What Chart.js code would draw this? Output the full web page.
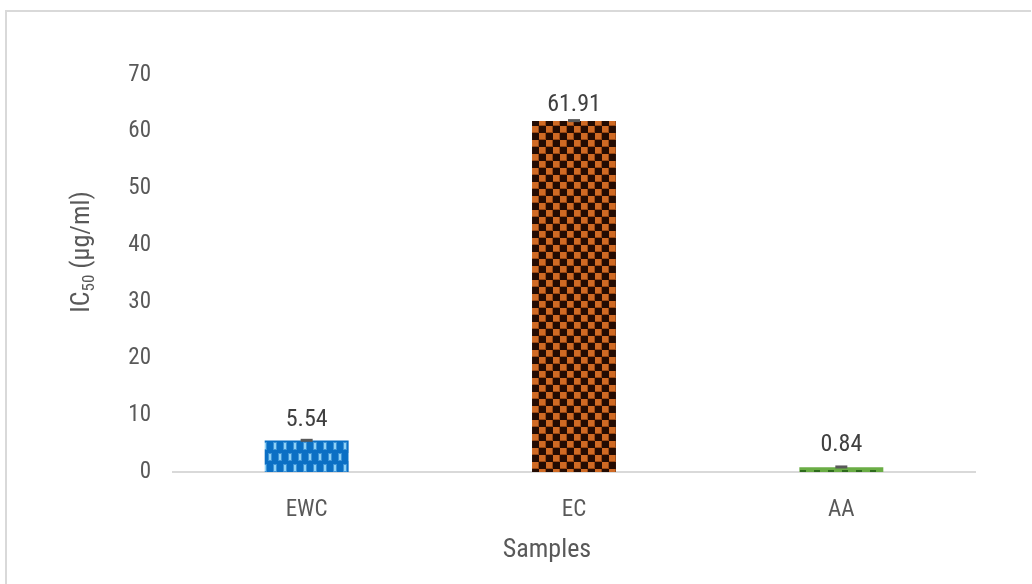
<!DOCTYPE html>
<html>
<head>
<meta charset="utf-8">
<script src="https://cdn.jsdelivr.net/npm/chart.js@4.4.1/dist/chart.umd.min.js"></script>
<style>
  html, body { margin: 0; padding: 0; background: #fff; }
  #wrap { width: 1032px; height: 584px; position: relative; }
</style>
</head>
<body>
<div id="wrap"><canvas id="c" width="1032" height="584"></canvas></div>
<script>
// ---- data ----
const categories = ['EWC', 'EC', 'AA'];
const ic50Values = [5.54, 61.91, 0.84];
const errorValues = [0.05, 0.05, 0.05];
const yTicks = [0, 10, 20, 30, 40, 50, 60, 70];
const xTitle = 'Samples';
const yTitleMain = 'IC';
const yTitleSub = '50';
const yTitleRest = ' (µg/ml)';

const FONT = '"Liberation Sans Narrow", "Roboto Condensed", "DejaVu Sans Condensed", Roboto, sans-serif';
const TEXT = '#595959';

// ---- patterns ----
function bluePattern() {
  const c = document.createElement('canvas'); c.width = 10; c.height = 22;
  const g = c.getContext('2d');
  g.fillStyle = '#0B6FC4'; g.fillRect(0, 0, 10, 22);
  g.fillStyle = '#3E94D8';
  g.fillRect(3, 2, 4, 8);
  g.fillRect(-2, 13, 4, 8); g.fillRect(8, 13, 4, 8);
  g.fillStyle = '#8FD2F6';
  g.fillRect(4, 3, 2, 6);
  g.fillRect(-1, 14, 2, 6); g.fillRect(9, 14, 2, 6);
  return g.createPattern(c, 'repeat');
}
function checkPattern() {
  const c = document.createElement('canvas'); c.width = 14; c.height = 14;
  const g = c.getContext('2d');
  g.fillStyle = '#240B02'; g.fillRect(0, 0, 14, 14);
  g.fillStyle = '#D06A24'; g.fillRect(0, 0, 7, 7); g.fillRect(7, 7, 7, 7);
  g.fillStyle = '#9A4814';
  g.fillRect(6, 0, 1, 7); g.fillRect(0, 6, 7, 1); g.fillRect(13, 7, 1, 7); g.fillRect(7, 13, 7, 1);
  return g.createPattern(c, 'repeat');
}
function greenPattern() {
  const c = document.createElement('canvas'); c.width = 14; c.height = 10;
  const g = c.getContext('2d');
  g.fillStyle = '#6AAD45'; g.fillRect(0, 0, 14, 10);
  g.fillStyle = '#2E6B1C';
  g.fillRect(2, 0, 6, 2);
  g.fillRect(9, 5, 4, 2);
  return g.createPattern(c, 'repeat');
}

// ---- plugins ----
const framePlugin = {
  id: 'frame',
  beforeDraw(chart) {
    const ctx = chart.ctx;
    ctx.save();
    ctx.fillStyle = '#fff';
    ctx.fillRect(0, 0, chart.width, chart.height);
    ctx.strokeStyle = '#d9d9d9';
    ctx.lineWidth = 2;
    ctx.beginPath();
    ctx.moveTo(6, chart.height);
    ctx.lineTo(6, 11);
    ctx.lineTo(chart.width - 1, 11);
    ctx.stroke();
    ctx.restore();
  }
};

const extrasPlugin = {
  id: 'extras',
  afterDatasetsDraw(chart) {
    const ctx = chart.ctx;
    const y = chart.scales.y;
    const meta = chart.getDatasetMeta(0);
    const labelGap = [15, 10, 16];
    ctx.save();
    meta.data.forEach((bar, i) => {
      // error bar
      const v = ic50Values[i], e = errorValues[i];
      const yt = y.getPixelForValue(v + e);
      const yb = y.getPixelForValue(v - e);
      ctx.strokeStyle = '#595959';
      ctx.lineWidth = 1.5;
      ctx.beginPath();
      ctx.moveTo(bar.x, yt); ctx.lineTo(bar.x, yb);
      ctx.stroke();
      ctx.lineWidth = 3;
      ctx.beginPath();
      ctx.moveTo(bar.x - 6, yt); ctx.lineTo(bar.x + 6, yt);
      ctx.stroke();
      // data label
      ctx.fillStyle = '#404040';
      ctx.font = '24px ' + FONT;
      ctx.textAlign = 'center';
      ctx.textBaseline = 'alphabetic';
      ctx.fillText(v.toFixed(2), bar.x, y.getPixelForValue(v) - labelGap[i]);
    });
    // x title
    ctx.fillStyle = TEXT;
    ctx.font = '26px ' + FONT;
    ctx.textAlign = 'center';
    ctx.textBaseline = 'middle';
    ctx.fillText(xTitle, 547, 550);
    // y title with subscript
    ctx.translate(80, 252);
    ctx.rotate(-Math.PI / 2);
    const big = '26px ' + FONT, small = '17px ' + FONT;
    ctx.font = big; const w1 = ctx.measureText(yTitleMain).width;
    const w3 = ctx.measureText(yTitleRest).width;
    ctx.font = small; const w2 = ctx.measureText(yTitleSub).width;
    let x0 = -(w1 + w2 + w3) / 2;
    ctx.textAlign = 'left';
    ctx.textBaseline = 'alphabetic';
    ctx.font = big; ctx.fillText(yTitleMain, x0, 9);
    ctx.font = small; ctx.fillText(yTitleSub, x0 + w1, 14);
    ctx.font = big; ctx.fillText(yTitleRest, x0 + w1 + w2, 9);
    ctx.restore();
  }
};

const patterns = [bluePattern(), checkPattern(), greenPattern()];

new Chart(document.getElementById('c'), {
  type: 'bar',
  data: {
    labels: categories,
    datasets: [{
      data: ic50Values,
      backgroundColor: patterns,
      borderWidth: 0,
      categoryPercentage: 1.0,
      barPercentage: 0.314
    }]
  },
  options: {
    responsive: false,
    animation: false,
    devicePixelRatio: 1,
    layout: { padding: { left: 0, right: 57, top: 75, bottom: 0 } },
    plugins: { legend: { display: false }, tooltip: { enabled: false } },
    scales: {
      x: {
        grid: { display: false, drawTicks: false },
        border: { display: true, color: '#d9d9d9', width: 2 },
        ticks: { color: TEXT, font: { family: FONT, size: 23 }, padding: 24 },
        afterFit(s) { s.height = 112; }
      },
      y: {
        min: 0, max: 70,
        afterBuildTicks(s) { s.ticks = yTicks.map(v => ({ value: v })); },
        grid: { display: false, drawTicks: false },
        border: { display: false },
        ticks: { color: TEXT, font: { family: FONT, size: 23 }, padding: 22 },
        afterFit(s) { s.width = 173; }
      }
    }
  },
  plugins: [framePlugin, extrasPlugin]
});
</script>
</body>
</html>
